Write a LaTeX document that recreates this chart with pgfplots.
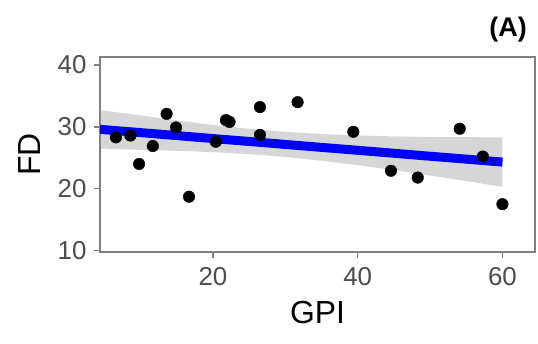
\documentclass[border=0pt]{standalone}
\usepackage{fontspec}
\setmainfont{Liberation Sans}
\usepackage{pgfplots}
\pgfplotsset{compat=1.18}
\definecolor{framegray}{HTML}{7F7F7F}
\definecolor{ticktext}{HTML}{4D4D4D}
\definecolor{bandgray}{HTML}{999999}
\begin{document}
\begin{tikzpicture}
\useasboundingbox (-100bp,-92bp) rectangle (438bp,252bp);
\begin{axis}[
  name=ax,
  at={(0,0)}, anchor=south west,
  scale only axis, width=435bp, height=195bp,
  xmin=4.4, xmax=64.5, ymin=9.76, ymax=41.3,
  xtick={20,40,60}, ytick={10,20,30,40},
  xtick pos=bottom, ytick pos=left,
  tick align=outside, major tick length=6bp,
  axis line style={framegray, line width=1.3bp},
  every tick/.style={framegray, line width=1.3bp},
  /pgf/number format/assume math mode=true,
  tick label style={font=\fontsize{26}{26}\selectfont, text=ticktext},
  yticklabel style={xshift=-4bp},
  xticklabel style={yshift=-6bp},
  clip=true,
]
\addplot[only marks, mark=*, mark size=5.8bp, color=black] coordinates {
(6.6,28.3) (8.6,28.6) (9.8,24.0) (11.7,26.9) (13.6,32.1) (14.9,29.9)
(16.7,18.7) (20.4,27.6) (21.8,31.1) (22.3,30.8) (26.5,33.2) (26.5,28.7)
(31.7,34.0) (39.4,29.2) (44.6,22.9) (48.3,21.8) (54.1,29.7) (57.3,25.2)
(60.0,17.5)
};
\addplot[fill=bandgray, fill opacity=0.4, draw=none] coordinates {
(4.4,32.70) (10,31.87) (15,31.05) (20,30.31) (25,29.69) (30,29.19)
(35,28.84) (40,28.61) (45,28.46) (50,28.37) (55,28.33) (60,28.30)
(60,20.30) (55,21.23) (50,22.13) (45,23.00) (40,23.81) (35,24.52)
(30,25.13) (25,25.59) (20,25.91) (15,26.13) (10,26.27) (4.4,26.50)
} -- cycle;
\addplot[blue, line width=9bp] coordinates {
(4.4,29.60) (10,29.07) (15,28.59) (20,28.11) (25,27.64) (30,27.16)
(35,26.68) (40,26.21) (45,25.73) (50,25.25) (55,24.78) (60,24.30)
};
\end{axis}
\node[anchor=center, font=\fontsize{32}{32}\selectfont] at ([yshift=-61bp]ax.south) {GPI};
\node[anchor=center, rotate=90, font=\fontsize{32}{32}\selectfont] at ([xshift=-70bp]ax.west) {FD};
\node[anchor=east, font=\bfseries\fontsize{27}{27}\selectfont, inner sep=0pt]
  at ([xshift=-8bp, yshift=27bp]ax.north east) {(A)};
\end{tikzpicture}
\end{document}
